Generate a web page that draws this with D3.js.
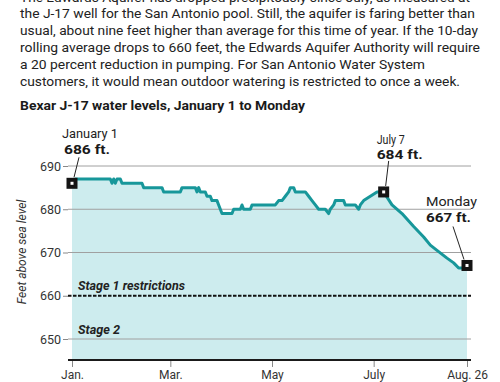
<!DOCTYPE html>
<html>
<head>
<meta charset="utf-8">
<script src="https://cdn.jsdelivr.net/npm/d3@7"></script>
<style>
body { margin: 0; background: #fff; }
svg { display: block; font-family: Roboto, "Open Sans", sans-serif; }
</style>
</head>
<body>
<svg id="chart" width="500" height="382"></svg>
<script>
// --- data ---
var introLines = [
  "The Edwards Aquifer has dropped precipitously since July, as measured at",
  "the J-17 well for the San Antonio pool.  Still, the aquifer is faring better than",
  "usual, about nine feet higher than average for this time of year. If the 10-day",
  "rolling average drops to 660 feet, the Edwards Aquifer Authority will require",
  "a 20 percent reduction in pumping. For San Antonio Water System",
  "customers, it would mean outdoor watering is restricted to once a week."
];
var chartTitle = "Bexar J-17 water levels, January 1 to Monday";
var yTitle = "Feet above sea level";

// day of year (0 = Jan. 1, 237 = Aug. 26) and level in feet
var days = [0, 2, 23, 24, 25, 26, 27, 29, 30, 42, 43, 54, 55, 65, 66, 74, 75, 76, 77, 80,
  81, 83, 84, 87, 88, 89, 90, 96, 97, 101, 102, 103, 104, 107, 108, 122, 124, 126, 128, 130,
  131, 133, 134, 140, 142, 144, 146, 148, 152, 154, 155, 157, 158, 163, 164, 170, 172, 173,
  175, 179, 183, 187, 192, 198, 205, 211, 215, 219, 225, 229, 232, 234, 237];
var levels = [686, 687, 687, 686, 687, 686, 687, 687, 686, 686, 685, 685, 684, 684, 685, 685, 684, 685, 684, 684,
  683, 683, 682, 682, 681, 680, 679, 679, 680, 680, 681, 680, 680, 680, 681, 681, 682, 682, 683, 684,
  685, 685, 684, 684, 683, 682, 681, 680, 680, 679, 680, 681, 682, 682, 681, 681, 680, 681,
  682, 683, 684, 684, 681, 679, 676, 673.6, 671.7, 670.5, 668.7, 667.6, 666.4, 666.4, 667];

var yTicks = [650, 660, 670, 680, 690];
var xTickDays = [0, 59, 120, 181, 237];
var xTickLabels = ["Jan.", "Mar.", "May", "July", "Aug. 26"];

var calloutDays = [0, 187, 237];
var calloutLevels = [686, 684, 667];
var calloutNames = ["January 1", "July 7", "Monday"];

var stageLevels = [660, 650];
var stageNames = ["Stage 1 restrictions", "Stage 2"];

// --- layout ---
var introWidths = [450, 455, 458, 460, 405, 440];
var stageWidths = [107, 42];
var calloutOffsets = [
  {tx: -10, n: -45, v: -29, l: [7, -26, 2, -6]},
  {tx: -7, n: -48, v: -33, l: [5, -31, 2, -6]},
  {tx: -41, n: -59, v: -43, l: [-14, -39, -3, -6]}
];
var calloutWidths = [[56, 46], [28, 46], [51, 45]];

var svg = d3.select("#chart");

var x = d3.scaleLinear().domain([0, 237]).range([72, 467]);
var y = d3.scaleLinear().domain([650, 690]).range([339, 166]);
var floorLevel = 645.15;

// --- intro text ---
svg.append("g").selectAll("text")
  .data(introLines)
  .join("text")
  .attr("x", 20)
  .attr("y", function(d, i) { return 1.5 + i * 16.9; })
  .attr("textLength", function(d, i) { return introWidths[i]; })
  .attr("lengthAdjust", "spacingAndGlyphs")
  .style("font-size", "13.5px")
  .style("fill", "#222")
  .text(function(d) { return d; });

svg.append("text")
  .attr("x", 20).attr("y", 110)
  .attr("textLength", 285).attr("lengthAdjust", "spacingAndGlyphs")
  .style("font-size", "13px").style("font-weight", "bold").style("fill", "#1a1a1a")
  .text(chartTitle);

// --- area ---
var pts = days.map(function(d, i) { return [d, levels[i]]; });

svg.append("path")
  .datum(pts)
  .attr("fill", "#cdecee")
  .attr("d", d3.area()
    .x(function(d) { return x(d[0]); })
    .y0(y(floorLevel))
    .y1(function(d) { return y(d[1]); }));

// --- grid ---
svg.append("g").selectAll("line")
  .data(yTicks)
  .join("line")
  .attr("x1", 68).attr("x2", 471)
  .attr("y1", function(d) { return y(d); })
  .attr("y2", function(d) { return y(d); })
  .attr("stroke", function(d) { return d === 660 ? "#111" : "#a0a0a0"; })
  .attr("stroke-width", function(d) { return d === 660 ? 2 : 1; })
  .attr("stroke-dasharray", function(d) { return d === 660 ? "3.5,1.5" : null; });

var yAxis = svg.append("g")
  .attr("transform", "translate(68,0)")
  .call(d3.axisLeft(y).tickValues(yTicks).tickSize(5).tickPadding(2));
yAxis.select(".domain").remove();
yAxis.selectAll(".tick line").attr("stroke", "#888");
yAxis.selectAll(".tick text")
  .style("font-size", "12.5px").style("font-family", "Roboto, sans-serif").style("fill", "#333");

svg.append("text")
  .attr("transform", "translate(26,252) rotate(-90)")
  .attr("text-anchor", "middle")
  .style("font-size", "12px").style("font-style", "italic").style("fill", "#333")
  .text(yTitle);

// --- stage labels ---
svg.append("g").selectAll("text")
  .data(stageNames)
  .join("text")
  .attr("x", 78)
  .attr("y", function(d, i) { return y(stageLevels[i]) - 5.5; })
  .attr("textLength", function(d, i) { return stageWidths[i]; })
  .attr("lengthAdjust", "spacingAndGlyphs")
  .style("font-size", "12px").style("font-weight", "bold").style("font-style", "italic")
  .style("fill", "#222")
  .text(function(d) { return d; });

// --- line ---
svg.append("path")
  .datum(pts)
  .attr("fill", "none")
  .attr("stroke", "#17979a")
  .attr("stroke-width", 3)
  .attr("stroke-linejoin", "round")
  .attr("d", d3.line()
    .x(function(d) { return x(d[0]); })
    .y(function(d) { return y(d[1]); }));

// --- x axis ---
var xAxis = svg.append("g")
  .attr("transform", "translate(0," + y(floorLevel) + ")")
  .call(d3.axisBottom(x).tickValues(xTickDays)
    .tickFormat(function(d, i) { return xTickLabels[i]; })
    .tickSize(7).tickPadding(4).tickSizeOuter(0));
xAxis.select(".domain").remove();
xAxis.selectAll(".tick line").attr("stroke", "#888");
xAxis.selectAll(".tick text")
  .style("font-size", "12px").style("font-family", "Roboto, sans-serif").style("fill", "#333");
svg.append("line")
  .attr("x1", 68).attr("x2", 471)
  .attr("y1", y(floorLevel)).attr("y2", y(floorLevel))
  .attr("stroke", "#1a1a1a").attr("stroke-width", 2);

// --- callouts ---
var callouts = svg.append("g").selectAll("g")
  .data(calloutNames)
  .join("g")
  .attr("transform", function(d, i) {
    return "translate(" + x(calloutDays[i]) + "," + y(calloutLevels[i]) + ")";
  });

callouts.append("line")
  .attr("x1", function(d, i) { return calloutOffsets[i].l[0]; })
  .attr("y1", function(d, i) { return calloutOffsets[i].l[1]; })
  .attr("x2", function(d, i) { return calloutOffsets[i].l[2]; })
  .attr("y2", function(d, i) { return calloutOffsets[i].l[3]; })
  .attr("stroke", "#222").attr("stroke-width", 1);

callouts.append("rect")
  .attr("x", -5.5).attr("y", -5.5).attr("width", 11).attr("height", 11)
  .attr("fill", "#141414");
callouts.append("rect")
  .attr("x", -1.5).attr("y", -1.5).attr("width", 3).attr("height", 3)
  .attr("fill", "#fff");

callouts.append("text")
  .attr("x", function(d, i) { return calloutOffsets[i].tx; })
  .attr("y", function(d, i) { return calloutOffsets[i].n; })
  .attr("textLength", function(d, i) { return calloutWidths[i][0]; })
  .attr("lengthAdjust", "spacingAndGlyphs")
  .style("font-size", "13px").style("fill", "#222")
  .text(function(d) { return d; });

callouts.append("text")
  .attr("x", function(d, i) { return calloutOffsets[i].tx + (i === 0 ? 2 : 0); })
  .attr("y", function(d, i) { return calloutOffsets[i].v; })
  .attr("textLength", function(d, i) { return calloutWidths[i][1]; })
  .attr("lengthAdjust", "spacingAndGlyphs")
  .style("font-size", "13px").style("font-weight", "bold").style("fill", "#1a1a1a")
  .text(function(d, i) { return calloutLevels[i] + " ft."; });
</script>
</body>
</html>
